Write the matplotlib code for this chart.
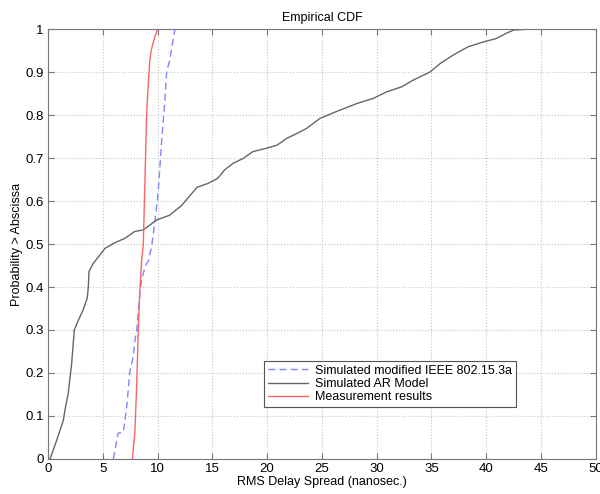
#!/usr/bin/env python3
"""Empirical CDF of RMS delay spread: simulated IEEE 802.15.3a, AR model and
measurement results."""

import matplotlib
matplotlib.use("Agg")
import matplotlib.pyplot as plt

plt.rcParams["font.family"] = ["Liberation Sans", "DejaVu Sans"]

# Simulated modified IEEE 802.15.3a (blue dashed)
ieee_x = [5.96, 6.4, 6.87, 7.18, 7.48, 7.79, 7.94, 8.09, 8.4, 8.55, 8.7, 9.0,
          9.15, 9.46, 9.76, 10.06, 10.37, 10.68, 10.83, 11.13, 11.43, 11.6]
ieee_y = [0.0, 0.06, 0.062, 0.12, 0.205, 0.238, 0.277, 0.296, 0.39, 0.416,
          0.432, 0.455, 0.46, 0.494, 0.552, 0.622, 0.738, 0.839, 0.90, 0.93,
          0.978, 1.0]

# Simulated AR model (gray)
ar_x = [0.18, 0.4, 0.8, 1.1, 1.4, 1.55, 1.85, 2.16, 2.4, 2.77, 3.2, 3.58,
        3.68, 3.74, 4.13, 4.6, 5.2, 6.1, 7.0, 7.9, 8.7, 9.3, 9.9, 11.1, 12.2,
        13.0, 13.6, 14.6, 15.5, 16.1, 16.9, 17.8, 18.7, 19.95, 20.9, 21.8,
        22.7, 23.6, 24.8, 26.3, 27.6, 28.2, 29.7, 30.9, 32.3, 33.3, 34.85,
        35.8, 37.0, 38.35, 39.7, 40.9, 41.8, 42.5, 44.0]
ar_y = [0.0, 0.015, 0.044, 0.067, 0.09, 0.114, 0.153, 0.222, 0.30, 0.323,
        0.346, 0.374, 0.40, 0.436, 0.455, 0.47, 0.49, 0.503, 0.513, 0.529,
        0.533, 0.544, 0.556, 0.567, 0.59, 0.614, 0.632, 0.641, 0.653, 0.672,
        0.688, 0.699, 0.715, 0.723, 0.730, 0.746, 0.757, 0.769, 0.792, 0.808,
        0.821, 0.827, 0.839, 0.854, 0.866, 0.881, 0.90, 0.92, 0.94, 0.959,
        0.97, 0.978, 0.99, 0.998, 1.0]

# Measurement results (red)
meas_x = [7.7, 7.94, 8.09, 8.24, 8.4, 8.55, 8.7, 8.85, 9.0, 9.15, 9.3, 9.46,
          9.76, 10.0]
meas_y = [0.0, 0.067, 0.168, 0.30, 0.40, 0.463, 0.50, 0.65, 0.80, 0.87,
          0.93, 0.955, 0.983, 1.0]


def main() -> None:
    fig = plt.figure(figsize=(6.0, 4.94), dpi=100)
    ax = fig.add_axes([0.08, 0.071, 0.913, 0.870])

    ax.plot(ieee_x, ieee_y, "--", color="#7f86ff", lw=1.0,
            dashes=(5, 3), label="Simulated modified IEEE 802.15.3a")
    ax.plot(ar_x, ar_y, "-", color="#666666", lw=1.0,
            label="Simulated AR Model")
    ax.plot(meas_x, meas_y, "-", color="#ff6464", lw=1.0,
            label="Measurement results")

    ax.set_xlim(0, 50)
    ax.set_ylim(0, 1)
    ax.set_xticks(range(0, 51, 5))
    ax.set_yticks([i / 10 for i in range(11)])
    ax.set_yticklabels(["0", "0.1", "0.2", "0.3", "0.4", "0.5", "0.6", "0.7",
                        "0.8", "0.9", "1"])
    ax.grid(True, linestyle=":", color="#c4c4c4", lw=0.8)
    ax.tick_params(direction="in", top=True, right=True, length=4,
                   labelsize=9.5, color="#777777", pad=3)
    for spine in ax.spines.values():
        spine.set_color("#777777")

    ax.set_title("Empirical CDF", fontsize=9, pad=6)
    ax.set_xlabel("RMS Delay Spread (nanosec.)", fontsize=9, labelpad=1)
    ax.set_ylabel("Probability > Abscissa", fontsize=9, labelpad=2)

    leg = ax.legend(loc="lower left", bbox_to_anchor=(0.394, 0.121),
                    fontsize=9, fancybox=False, framealpha=1,
                    borderaxespad=0, handlelength=3.2, borderpad=0.3,
                    labelspacing=0.1, handletextpad=0.6)
    leg.get_frame().set_edgecolor("#555555")
    leg.get_frame().set_linewidth(0.8)

    fig.savefig("out.png", dpi=100)


if __name__ == "__main__":
    main()
